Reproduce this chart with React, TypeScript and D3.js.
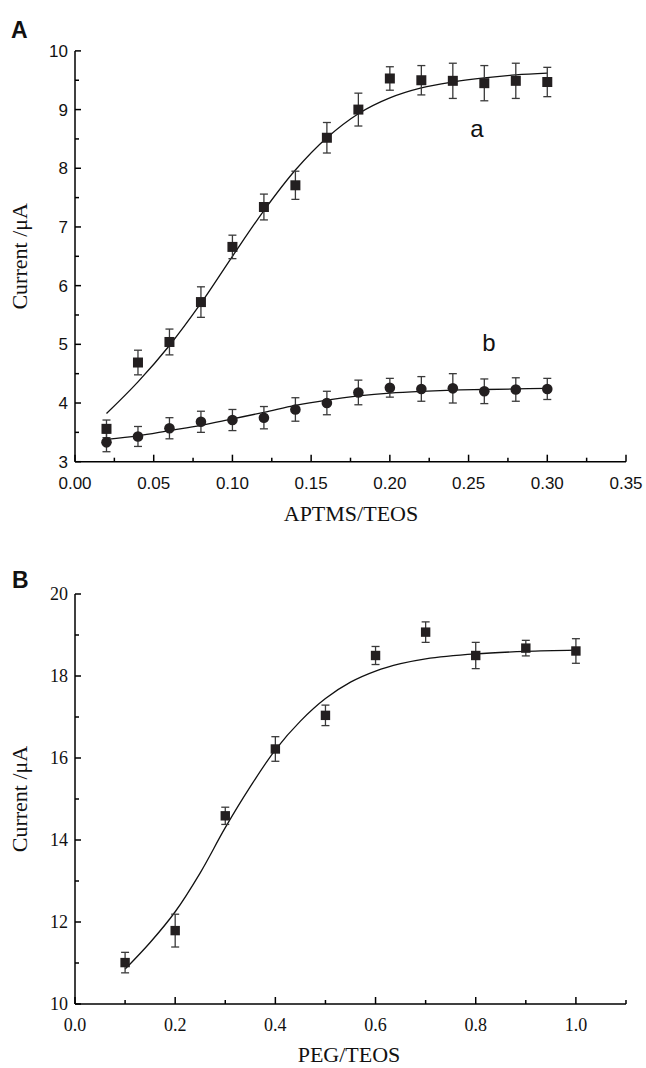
import React from 'react';
import * as d3 from 'd3';

// Panel A: current vs APTMS/TEOS ratio, curves a (squares) and b (circles)
const ratioA = [0.02, 0.04, 0.06, 0.08, 0.1, 0.12, 0.14, 0.16, 0.18, 0.2, 0.22, 0.24, 0.26, 0.28, 0.3];
const currentAa = [3.56, 4.69, 5.04, 5.72, 6.66, 7.34, 7.71, 8.52, 9.0, 9.53, 9.5, 9.49, 9.45, 9.49, 9.47];
const errAa = [0.15, 0.21, 0.22, 0.26, 0.2, 0.22, 0.24, 0.26, 0.28, 0.2, 0.25, 0.3, 0.3, 0.3, 0.25];
const fitAa = [3.82, 4.36, 4.98, 5.7, 6.5, 7.28, 7.97, 8.52, 8.93, 9.2, 9.37, 9.47, 9.54, 9.59, 9.62];
const currentAb = [3.33, 3.43, 3.57, 3.68, 3.71, 3.75, 3.89, 4.0, 4.18, 4.26, 4.24, 4.25, 4.2, 4.23, 4.24];
const errAb = [0.16, 0.17, 0.18, 0.18, 0.18, 0.19, 0.2, 0.2, 0.21, 0.16, 0.21, 0.25, 0.21, 0.2, 0.18];
const fitAb = [3.38, 3.44, 3.53, 3.62, 3.73, 3.84, 3.96, 4.05, 4.12, 4.17, 4.2, 4.22, 4.23, 4.24, 4.25];

const xTicksA = [0, 0.05, 0.1, 0.15, 0.2, 0.25, 0.3, 0.35];
const xMinorA = [0.025, 0.075, 0.125, 0.175, 0.225, 0.275, 0.325];
const yTicksA = [3, 4, 5, 6, 7, 8, 9, 10];
const yMinorA = [3.5, 4.5, 5.5, 6.5, 7.5, 8.5, 9.5];

// Panel B: current vs PEG/TEOS ratio
const ratioB = [0.1, 0.2, 0.3, 0.4, 0.5, 0.6, 0.7, 0.8, 0.9, 1.0];
const currentB = [11.01, 11.79, 14.59, 16.22, 17.04, 18.5, 19.07, 18.5, 18.68, 18.61];
const errB = [0.25, 0.4, 0.21, 0.3, 0.25, 0.22, 0.25, 0.32, 0.19, 0.3];
const fitBx = [0.1, 0.15, 0.2, 0.25, 0.3, 0.35, 0.4, 0.45, 0.5, 0.55, 0.6, 0.65, 0.7, 0.8, 0.9, 1.0];
const fitBy = [10.85, 11.5, 12.25, 13.2, 14.3, 15.3, 16.2, 16.9, 17.45, 17.85, 18.12, 18.3, 18.42, 18.54, 18.6, 18.63];

const xTicksB = [0, 0.2, 0.4, 0.6, 0.8, 1.0];
const xMinorB = [0.1, 0.3, 0.5, 0.7, 0.9, 1.1];
const yTicksB = [10, 12, 14, 16, 18, 20];
const yMinorB = [11, 13, 15, 17, 19];

const SANS = '"Liberation Sans", Arial, sans-serif';
const SERIF = '"Liberation Serif", "Times New Roman", serif';
const INK = '#231f20';
const BAR = '#3a3a3a';

const left = 75;
const right = 626;

function ErrorBars({ xs, ys, es, x, y }) {
  return (
    <g stroke={BAR} strokeWidth={1.3} fill="none">
      {xs.map((v, i) => {
        const cx = x(v);
        const t = y(ys[i] + es[i]);
        const b = y(ys[i] - es[i]);
        return (
          <g key={i}>
            <line x1={cx} x2={cx} y1={t} y2={b} />
            <line x1={cx - 4} x2={cx + 4} y1={t} y2={t} />
            <line x1={cx - 4} x2={cx + 4} y1={b} y2={b} />
          </g>
        );
      })}
    </g>
  );
}

function Axes({ x, y, xTicks, xMinor, yTicks, yMinor, xFmt, font, size }) {
  const [y0] = y.range();
  const yTop = y(y.domain()[1]);
  return (
    <g>
      <g stroke="#000" strokeWidth={1.5} fill="none">
        <line x1={left} x2={left} y1={y0} y2={yTop} />
        <line x1={left} x2={right} y1={y0} y2={y0} />
        {yTicks.map((t) => (
          <line key={'ym' + t} x1={left} x2={left + 6} y1={y(t)} y2={y(t)} />
        ))}
        {yMinor.map((t) => (
          <line key={'yn' + t} x1={left} x2={left + 4} y1={y(t)} y2={y(t)} />
        ))}
        {xTicks.map((t) => (
          <line key={'xm' + t} x1={x(t)} x2={x(t)} y1={y0} y2={y0 - 7} />
        ))}
        {xMinor.map((t) => (
          <line key={'xn' + t} x1={x(t)} x2={x(t)} y1={y0} y2={y0 - 4} />
        ))}
      </g>
      <g fontFamily={font} fontSize={size} fill="#111">
        {yTicks.map((t) => (
          <text key={'yl' + t} x={left - 7} y={y(t)} dy="0.36em" textAnchor="end">
            {t}
          </text>
        ))}
        {xTicks.map((t) => (
          <text key={'xl' + t} x={x(t)} y={y0 + 27} textAnchor="middle">
            {xFmt(t)}
          </text>
        ))}
      </g>
    </g>
  );
}

export default function App() {
  const xA = d3.scaleLinear().domain([0, 0.35]).range([left, right]);
  const yA = d3.scaleLinear().domain([3, 10]).range([461.7, 50.9]);
  const xB = d3.scaleLinear().domain([0, 1.1]).range([left, right]);
  const yB = d3.scaleLinear().domain([10, 20]).range([1004, 594]);

  const lineA = d3
    .line<number>()
    .x((d, i) => xA(ratioA[i]))
    .curve(d3.curveCatmullRom);
  const fitPathAa = lineA.y((d) => yA(d))(fitAa);
  const fitPathAb = lineA.y((d) => yA(d))(fitAb);
  const fitPathB = d3
    .line<number>()
    .x((d, i) => xB(fitBx[i]))
    .y((d) => yB(d))
    .curve(d3.curveCatmullRom)(fitBy);

  return (
    <svg
      width={646}
      height={1068}
      style={{ position: 'absolute', left: 0, top: 0, background: '#fff' }}
    >
      {/* Panel A */}
      <text x={11} y={38} fontFamily={SANS} fontWeight="bold" fontSize={23} fill="#111">
        A
      </text>
      <Axes
        x={xA}
        y={yA}
        xTicks={xTicksA}
        xMinor={xMinorA}
        yTicks={yTicksA}
        yMinor={yMinorA}
        xFmt={d3.format('.2f')}
        font={SANS}
        size={17}
      />
      <text x={351} y={521} textAnchor="middle" fontFamily={SERIF} fontSize={22} fill="#111">
        APTMS/TEOS
      </text>
      <text
        transform={`translate(27,${(yA(3) + yA(10)) / 2}) rotate(-90)`}
        textAnchor="middle"
        fontFamily={SERIF}
        fontSize={22}
        fill="#111"
      >
        Current /μA
      </text>
      <path d={fitPathAa} fill="none" stroke="#111" strokeWidth={1.3} />
      <path d={fitPathAb} fill="none" stroke="#111" strokeWidth={1.3} />
      <ErrorBars xs={ratioA} ys={currentAa} es={errAa} x={xA} y={yA} />
      <ErrorBars xs={ratioA} ys={currentAb} es={errAb} x={xA} y={yA} />
      {ratioA.map((r, i) => (
        <rect key={'sa' + i} x={xA(r) - 5} y={yA(currentAa[i]) - 5} width={10} height={10} fill={INK} />
      ))}
      {ratioA.map((r, i) => (
        <circle key={'cb' + i} cx={xA(r)} cy={yA(currentAb[i])} r={5.3} fill={INK} />
      ))}
      <text x={477} y={137} textAnchor="middle" fontFamily={SANS} fontSize={24} fill="#111">
        a
      </text>
      <text x={489} y={351} textAnchor="middle" fontFamily={SANS} fontSize={24} fill="#111">
        b
      </text>

      {/* Panel B */}
      <text x={12} y={588} fontFamily={SANS} fontWeight="bold" fontSize={23} fill="#111">
        B
      </text>
      <Axes
        x={xB}
        y={yB}
        xTicks={xTicksB}
        xMinor={xMinorB}
        yTicks={yTicksB}
        yMinor={yMinorB}
        xFmt={d3.format('.1f')}
        font={SERIF}
        size={18}
      />
      <text x={349} y={1062} textAnchor="middle" fontFamily={SERIF} fontSize={22} fill="#111">
        PEG/TEOS
      </text>
      <text
        transform={`translate(27,${(yB(10) + yB(20)) / 2}) rotate(-90)`}
        textAnchor="middle"
        fontFamily={SERIF}
        fontSize={22}
        fill="#111"
      >
        Current /μA
      </text>
      <path d={fitPathB} fill="none" stroke="#111" strokeWidth={1.3} />
      <ErrorBars xs={ratioB} ys={currentB} es={errB} x={xB} y={yB} />
      {ratioB.map((r, i) => (
        <rect key={'sb' + i} x={xB(r) - 4.7} y={yB(currentB[i]) - 4.7} width={9.4} height={9.4} fill={INK} />
      ))}
    </svg>
  );
}
